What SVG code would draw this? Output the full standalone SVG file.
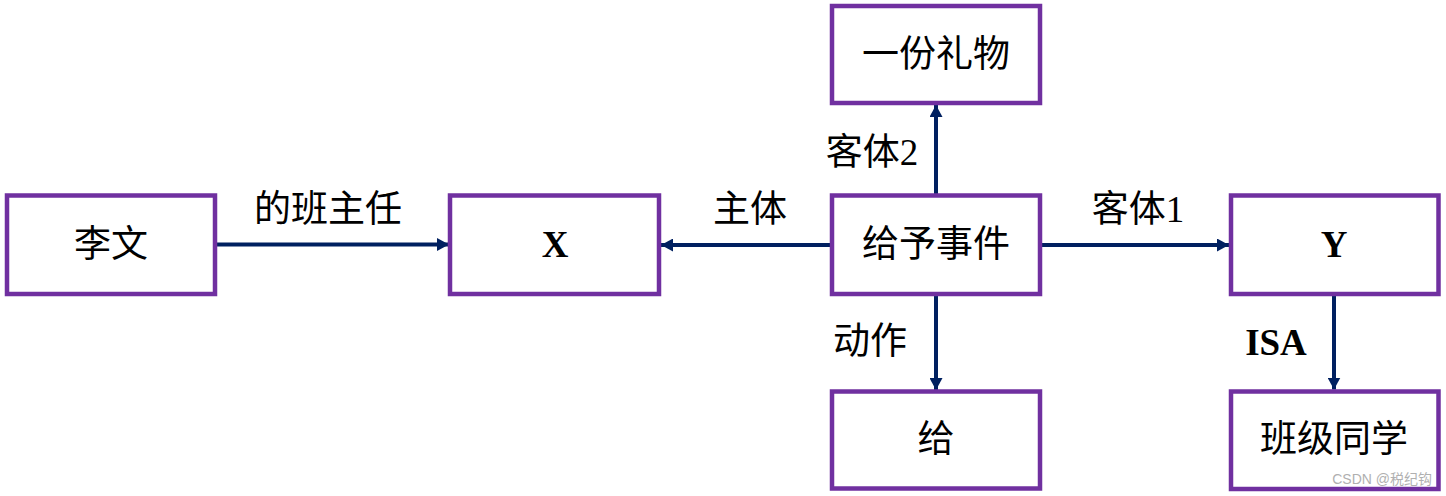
<svg xmlns="http://www.w3.org/2000/svg" width="1446" height="496" viewBox="0 0 1446 496">
<style>
.box{fill:#fff;stroke:#7030A0;stroke-width:4.5}
.t{font-family:"Liberation Serif","Noto Sans CJK SC",serif;font-size:37px;fill:#000;text-anchor:middle;dominant-baseline:central}
.b{font-weight:bold}
.lbl{font-family:"Liberation Serif","Noto Sans CJK SC",serif;font-size:37px;fill:#000;text-anchor:middle;dominant-baseline:central}
.c{stroke:#002060;stroke-width:4;fill:none}
.wm{font-family:"Liberation Sans","Noto Sans CJK SC",sans-serif;font-size:14px;fill:#b0b0b0;text-anchor:end;dominant-baseline:central}
</style>
<defs>
<marker id="ah" viewBox="0 0 12 13" refX="12" refY="6.5" markerWidth="12" markerHeight="13" markerUnits="userSpaceOnUse" orient="auto">
<path d="M0,0 L12,6.5 L0,13 Z" fill="#002060"/>
</marker>
</defs>
<rect width="1446" height="496" fill="#fff"/>
<g id="connectors">
<line class="c" x1="217" y1="244.5" x2="449" y2="244.5" marker-end="url(#ah)"/>
<line class="c" x1="832" y1="245" x2="661" y2="245" marker-end="url(#ah)"/>
<line class="c" x1="936" y1="195" x2="936" y2="105" marker-end="url(#ah)"/>
<line class="c" x1="1040" y1="245" x2="1229" y2="245" marker-end="url(#ah)"/>
<line class="c" x1="936" y1="296" x2="936" y2="390" marker-end="url(#ah)"/>
<line class="c" x1="1334" y1="294" x2="1334" y2="389.5" marker-end="url(#ah)"/>
<text class="lbl" x="328" y="209">的班主任</text>
<text class="lbl" x="750" y="209">主体</text>
<text class="lbl" x="872" y="152">客体2</text>
<text class="lbl" x="1138" y="209">客体1</text>
<text class="lbl" x="870" y="341">动作</text>
<text class="lbl b" x="1276" y="342">ISA</text>
</g>
<g id="n-liwen"><rect class="box" x="7" y="195.5" width="208" height="98.5"/><text class="t" x="111" y="244">李文</text></g>
<g id="n-x"><rect class="box" x="450" y="195.5" width="209" height="98.5"/><text class="t b" x="555" y="244">X</text></g>
<g id="n-event"><rect class="box" x="832" y="195.5" width="208" height="98.5"/><text class="t" x="936" y="244">给予事件</text></g>
<g id="n-gift"><rect class="box" x="832" y="6" width="208" height="97"/><text class="t" x="936" y="54">一份礼物</text></g>
<g id="n-give"><rect class="box" x="832" y="391.5" width="208" height="97"/><text class="t" x="936" y="439">给</text></g>
<g id="n-y"><rect class="box" x="1231" y="195.5" width="207.5" height="98.5"/><text class="t b" x="1334" y="244">Y</text></g>
<g id="n-classmate"><rect class="box" x="1231" y="391.5" width="207.5" height="97.5"/><text class="t" x="1334" y="439">班级同学</text></g>
<text class="wm" x="1432" y="479">CSDN @税纪钩</text>
</svg>
